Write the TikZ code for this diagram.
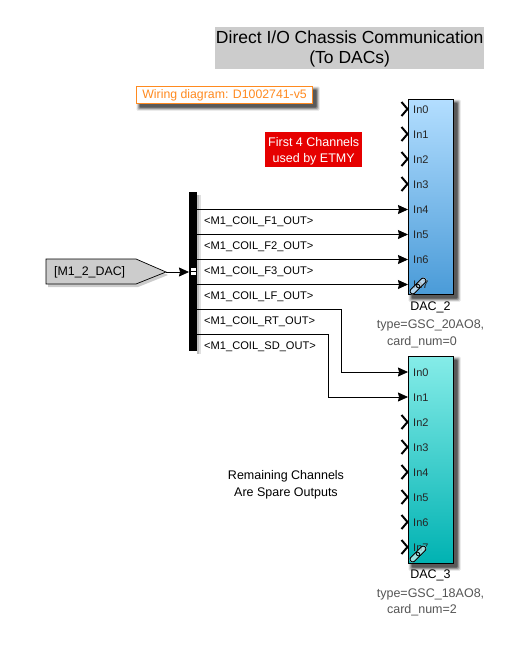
\documentclass[tikz,border=0pt]{standalone}
\usepackage{fontspec}
\setmainfont{Liberation Sans}
\usetikzlibrary{arrows.meta,positioning,calc}
\definecolor{titlegray}{HTML}{CCCCCC}
\definecolor{wireorange}{HTML}{FF8A1F}
\definecolor{redbox}{HTML}{E60000}
\definecolor{gotogray}{HTML}{CCCCCC}
\definecolor{capgray}{HTML}{555555}
\tikzset{
  x=1pt,y=-1pt,
  sig/.style={draw=black,line width=0.8pt,-{Stealth[length=10pt,width=9pt,inset=1pt]}},
  siglabel/.style={font=\fontsize{11.1}{13}\selectfont,anchor=west,inner sep=0pt},
  portlabel/.style={font=\fontsize{11}{13}\selectfont,anchor=west,inner sep=0pt,text=black!85},
  chevron/.style={draw=black,line width=2pt,miter limit=4},
  caption/.style={font=\fontsize{12.5}{15}\selectfont,text=capgray,inner sep=0pt,align=center},
  dacname/.style={font=\fontsize{12.5}{15}\selectfont,inner sep=0pt},
  plainnote/.style={font=\fontsize{12.5}{17}\selectfont,inner sep=0pt,align=center},
}
\newcommand{\softshadow}[5]{% x0 y0 x1 y1 offset
  \foreach \k/\o in {3.5/0.12,2.5/0.18,1.5/0.25,0.5/0.35}{
    \fill[black,opacity=\o,rounded corners=1pt] ({#1+#5-\k},{#2+#5-\k}) rectangle ({#3+#5+\k},{#4+#5+\k});
  }
}
\newcommand{\lnk}[2]{% link icon
  \begin{scope}[shift={(#1,#2)},rotate=45]
    \draw[white,line width=6pt,line cap=round,opacity=0.6] (-8,0) -- (8,0);
    \draw[black,line width=0.9pt,rounded corners=2.4pt] (-10,-2.7) rectangle (1.5,2.7);
    \draw[black,line width=0.9pt,rounded corners=2.4pt] (-1.5,-2.7) rectangle (10,2.7);
  \end{scope}
}
\begin{document}
\begin{tikzpicture}
\useasboundingbox (0,0) rectangle (525,646);
\fill[white] (0,0) rectangle (525,646);

% title
\node[fill=titlegray,minimum width=269pt,minimum height=42pt,inner sep=0pt,align=center,
      font=\fontsize{17.5}{20}\selectfont,anchor=north west] (title) at (215,27)
      {\rule{0pt}{15pt}Direct I/O Chassis Communication\\(To DACs)};

% wiring note
\softshadow{136}{86}{312}{103}{4}
\node[draw=wireorange,fill=white,line width=1.2pt,text=wireorange,minimum width=176pt,minimum height=17pt,inner sep=0pt,
      font=\fontsize{12.3}{14}\selectfont,anchor=north west] (wiring) at (136,86) {Wiring diagram: D1002741-v5};

% red note
\node[fill=redbox,text=white,minimum width=97pt,minimum height=35pt,inner sep=0pt,align=center,
      font=\fontsize{12.5}{16.5}\selectfont,anchor=north west] (etmy) at (265,132) {\rule{0pt}{12pt}First 4 Channels\\used by ETMY};

% goto
\fill[black,opacity=0.2] (48,262) -- (138,262) -- (168,275) -- (138,287) -- (48,287) -- cycle;
\draw[black,line width=0.7pt,fill=gotogray] (46,259) -- (136,259) -- (166,272) -- (136,284) -- (46,284) -- cycle;
\coordinate (gototip) at (166,272);
\node[font=\fontsize{12.4}{14}\selectfont,anchor=west,inner sep=0pt] (gotolabel) at (54,272.5) {[M1\_2\_DAC]};

% bus
\fill[black,opacity=0.12] (197,195) rectangle (201,354);
\fill[black,opacity=0.15] (197,195) rectangle (199,354);
\node[fill=black,minimum width=8pt,minimum height=159pt,inner sep=0pt,anchor=north west] (bus) at (189,192) {};
\fill[white] (190.5,267.5) rectangle (195.5,270.5);
\fill[white] (190.5,272) rectangle (195.5,275);
\draw[sig] (gototip) -- (bus.west |- gototip);

% DAC_2
\softshadow{408}{99}{453}{294}{4}
\node[draw=black,line width=0.9pt,minimum width=45pt,minimum height=195pt,inner sep=0pt,anchor=north west,
      shade,shading=axis,top color={rgb,255:red,179;green,222;blue,255},bottom color={rgb,255:red,74;green,155;blue,216}] (dactwo) at (408,99) {};
% DAC_3
\softshadow{408}{356}{453}{563}{4}
\node[draw=black,line width=0.9pt,minimum width=45pt,minimum height=207pt,inner sep=0pt,anchor=north west,
      shade,shading=axis,top color={rgb,255:red,133;green,236;blue,232},bottom color={rgb,255:red,0;green,178;blue,178}] (dacthree) at (408,356) {};

% port coordinates and labels
\foreach \i [evaluate=\i as \yy using 109.6+25*\i] in {0,...,7}{
  \coordinate (two\i) at (408,\yy-0.6);
  \node[portlabel] (twolabel\i) at (413,\yy) {In\i};
}
\foreach \i [evaluate=\i as \yy using 372.6+25*\i] in {0,...,7}{
  \coordinate (three\i) at (408,\yy-0.6);
  \node[portlabel] (threelabel\i) at (413,\yy) {In\i};
}

% unconnected chevrons
\foreach \p in {two0,two1,two2,two3,three2,three3,three4,three5,three6,three7}{
  \draw[chevron] ($(\p)+(-6.5,-7)$) -- ($(\p)+(-0.5,0)$) -- ($(\p)+(-6.5,7)$);
}

% signals
\coordinate (b1) at (197,209.5);
\coordinate (b2) at (197,234.5);
\coordinate (b3) at (197,259.5);
\coordinate (b4) at (197,284.5);
\coordinate (b5) at (197,309.5);
\coordinate (b6) at (197,334.5);
\draw[sig] (b1) -- (two4 |- b1);
\draw[sig] (b2) -- (two5 |- b2);
\draw[sig] (b3) -- (two6 |- b3);
\draw[sig] (b4) -- (two7 |- b4);
\coordinate (rtbend) at (341,309.5);
\coordinate (sdbend) at (328,334.5);
\draw[sig] (b5) -- (rtbend) -- (rtbend |- three0) -- (three0);
\draw[sig] (b6) -- (sdbend) -- (sdbend |- three1) -- (three1);

\node[siglabel] (l1) at (204,221.5) {<M1\_COIL\_F1\_OUT>};
\node[siglabel] (l2) at (204,246.5) {<M1\_COIL\_F2\_OUT>};
\node[siglabel] (l3) at (204,271.5) {<M1\_COIL\_F3\_OUT>};
\node[siglabel] (l4) at (204,296.5) {<M1\_COIL\_LF\_OUT>};
\node[siglabel] (l5) at (204,321.5) {<M1\_COIL\_RT\_OUT>};
\node[siglabel] (l6) at (204,346.5) {<M1\_COIL\_SD\_OUT>};

% link icons
\lnk{418}{286}
\lnk{418}{554}

% captions
\node[dacname] (namet) at (430.5,307.5) {DAC\_2};
\node[caption] (capa) at (430.5,325.5) {type=GSC\_20AO8,};
\node[caption] (capb) at (422,342.5) {card\_num=0};
\node[dacname] (namec) at (430.5,575.5) {DAC\_3};
\node[caption] (capc) at (430.5,594) {type=GSC\_18AO8,};
\node[caption] (capd) at (422,610.5) {card\_num=2};

\node[plainnote] (spare) at (286,485) {Remaining Channels\\Are Spare Outputs};
\end{tikzpicture}
\end{document}
